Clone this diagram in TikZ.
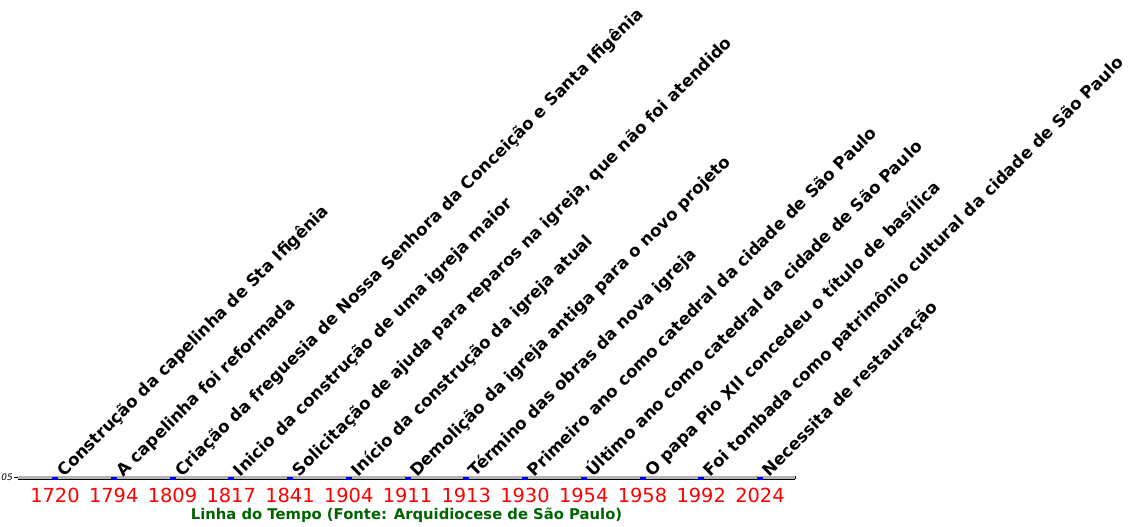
\documentclass[tikz,border=0pt]{standalone}
\usepackage{fontspec}
\setmainfont{DejaVu Sans}
\usepackage{xcolor}
\usetikzlibrary{positioning}

\definecolor{axisgray}{HTML}{B4B4B4}
\definecolor{titlegreen}{HTML}{006400}

\begin{document}
\begin{tikzpicture}[
  x=1pt, y=1pt,
  node distance=8pt,
  evmark/.style={
    fill=blue,
    minimum width=6pt,
    minimum height=3pt,
    inner sep=0pt
  },
  yearlbl/.style={
    text=red,
    inner sep=0pt,
    font=\fontsize{19.4}{22}\selectfont
  },
  evtext/.style={
    rotate=45,
    anchor=base west,
    inner sep=0pt,
    font=\fontsize{16.7}{20}\selectfont\bfseries
  }
]
\useasboundingbox (0,0) rectangle (1130,527);

% axis band
\fill[axisgray] (18,48) rectangle (795,51);
\draw[line width=0.8pt] (18,48) -- (795,48);
\draw[line width=0.8pt] (795,48) -- (795,51);
\draw[line width=0.8pt] (14,49.5) -- (18,49.5);
\node[anchor=east, inner sep=0pt, font=\fontsize{9}{10}\selectfont\itshape] (ytick) at (13,49.5) {0.05};

% event markers
\node[evmark] (m1720) at (55,48.5) {};
\node[evmark] (m1794) at (113.75,48.5) {};
\node[evmark] (m1809) at (172.5,48.5) {};
\node[evmark] (m1817) at (231.25,48.5) {};
\node[evmark] (m1841) at (290,48.5) {};
\node[evmark] (m1904) at (348.75,48.5) {};
\node[evmark] (m1911) at (407.5,48.5) {};
\node[evmark] (m1913) at (466.25,48.5) {};
\node[evmark] (m1930) at (525,48.5) {};
\node[evmark] (m1954) at (583.75,48.5) {};
\node[evmark] (m1958) at (642.5,48.5) {};
\node[evmark] (m1992) at (701.25,48.5) {};
\node[evmark] (m2024) at (760,48.5) {};

% years
\node[yearlbl, below=of m1720] (y1720) {1720};
\node[yearlbl, below=of m1794] (y1794) {1794};
\node[yearlbl, below=of m1809] (y1809) {1809};
\node[yearlbl, below=of m1817] (y1817) {1817};
\node[yearlbl, below=of m1841] (y1841) {1841};
\node[yearlbl, below=of m1904] (y1904) {1904};
\node[yearlbl, below=of m1911] (y1911) {1911};
\node[yearlbl, below=of m1913] (y1913) {1913};
\node[yearlbl, below=of m1930] (y1930) {1930};
\node[yearlbl, below=of m1954] (y1954) {1954};
\node[yearlbl, below=of m1958] (y1958) {1958};
\node[yearlbl, below=of m1992] (y1992) {1992};
\node[yearlbl, below=of m2024] (y2024) {2024};

% event texts
\node[evtext] (t1720) at ([shift={(9.5,1)}]m1720.center) {Construção da capelinha de Sta Ifigênia};
\node[evtext] (t1794) at ([shift={(9.5,1)}]m1794.center) {A capelinha foi reformada};
\node[evtext] (t1809) at ([shift={(9.5,1)}]m1809.center) {Criação da freguesia de Nossa Senhora da Conceição e Santa Ifigênia};
\node[evtext] (t1817) at ([shift={(9.5,1)}]m1817.center) {Inicio da construção de uma igreja maior};
\node[evtext] (t1841) at ([shift={(9.5,1)}]m1841.center) {Solicitação de ajuda para reparos na igreja, que não foi atendido};
\node[evtext] (t1904) at ([shift={(9.5,1)}]m1904.center) {Início da construção da igreja atual};
\node[evtext] (t1911) at ([shift={(9.5,1)}]m1911.center) {Demolição da igreja antiga para o novo projeto};
\node[evtext] (t1913) at ([shift={(9.5,1)}]m1913.center) {Término das obras da nova igreja};
\node[evtext] (t1930) at ([shift={(9.5,1)}]m1930.center) {Primeiro ano como catedral da cidade de São Paulo};
\node[evtext] (t1954) at ([shift={(9.5,1)}]m1954.center) {Último ano como catedral da cidade de São Paulo};
\node[evtext] (t1958) at ([shift={(9.5,1)}]m1958.center) {O papa Pio XII concedeu o título de basílica};
\node[evtext] (t1992) at ([shift={(9.5,1)}]m1992.center) {Foi tombada como patrimônio cultural da cidade de São Paulo};
\node[evtext] (t2024) at ([shift={(9.5,1)}]m2024.center) {Necessita de restauração};

% caption
\node[text=titlegreen, font=\fontsize{14.8}{17}\selectfont\bfseries] (caption) at (406.5,12) {Linha do Tempo (Fonte: Arquidiocese de São Paulo)};
\end{tikzpicture}
\end{document}
